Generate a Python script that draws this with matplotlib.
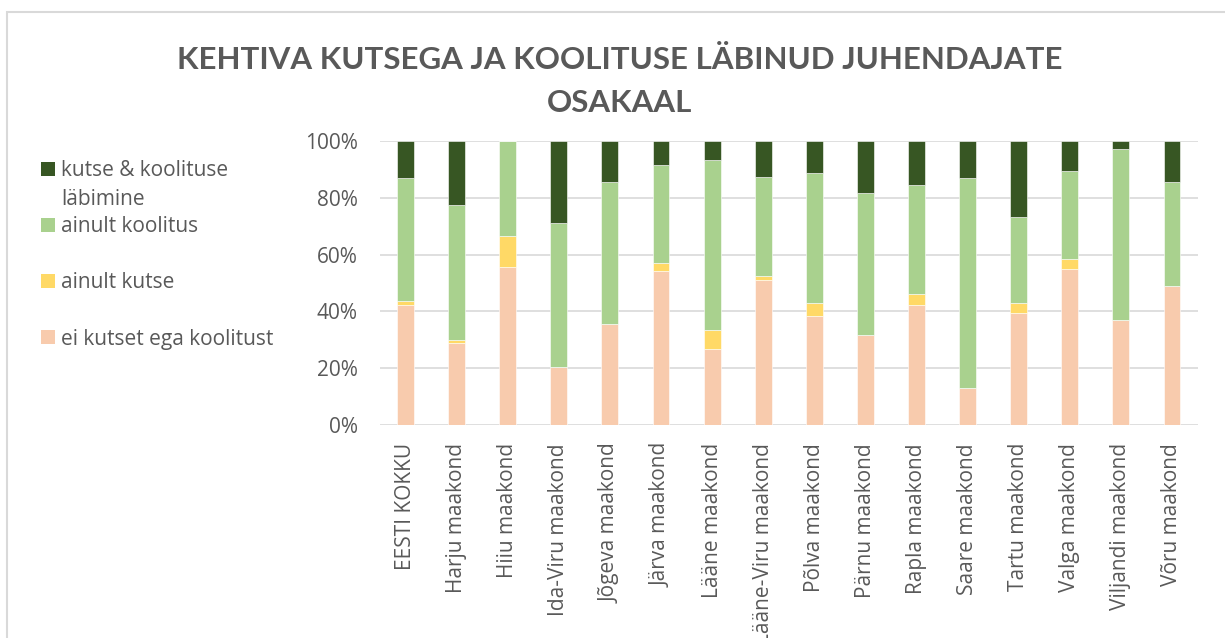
import matplotlib
matplotlib.use("Agg")
import matplotlib.pyplot as plt
import numpy as np
from matplotlib.patches import Patch, Rectangle
from matplotlib.ticker import FuncFormatter

regions = ["EESTI KOKKU", "Harju maakond", "Hiiu maakond", "Ida-Viru maakond",
           "Jõgeva maakond", "Järva maakond", "Lääne maakond", "Lääne-Viru maakond",
           "Põlva maakond", "Pärnu maakond", "Rapla maakond", "Saare maakond",
           "Tartu maakond", "Valga maakond", "Viljandi maakond", "Võru maakond"]

# shares in %, bottom to top
ei_kutset = [42.2, 29.0, 55.5, 20.3, 35.6, 54.3, 26.6, 50.9,
             38.5, 31.6, 42.2, 12.9, 39.5, 55.1, 37.1, 48.9]
ainult_kutse = [1.4, 1.1, 11.1, 0.0, 0.0, 2.7, 6.7, 1.6,
                4.5, 0.0, 3.9, 0.0, 3.4, 3.4, 0.0, 0.0]
ainult_koolitus = [43.2, 47.5, 33.4, 51.0, 50.1, 34.4, 59.9, 35.0,
                   45.6, 50.0, 38.4, 73.9, 30.2, 31.0, 60.0, 36.8]
kutse_ja_koolitus = [13.2, 22.4, 0.0, 28.7, 14.3, 8.6, 6.8, 12.5,
                     11.4, 18.4, 15.5, 13.2, 26.9, 10.5, 2.9, 14.3]

series = [
    ("ei kutset ega koolitust", ei_kutset, "#F8CBAD"),
    ("ainult kutse", ainult_kutse, "#FFD966"),
    ("ainult koolitus", ainult_koolitus, "#A9D18E"),
    ("kutse & koolituse", kutse_ja_koolitus, "#375623"),
]

txt = "#595959"
fs = 15
plt.rcParams["font.family"] = ["Open Sans", "DejaVu Sans"]

fig = plt.figure(figsize=(12.25, 6.38), dpi=100)
ax = fig.add_axes([380 / 1225, 1 - 425 / 638, (1197.5 - 380) / 1225, (425 - 141) / 638])

x = np.arange(len(regions))
bottom = np.zeros(len(regions))
for name, vals, col in series:
    vals = np.array(vals)
    ax.bar(x, vals, 0.33, bottom=bottom, color=col, edgecolor="white", linewidth=0.4, zorder=3)
    bottom += vals

ax.set_xlim(-0.5, len(regions) - 0.5)
ax.set_ylim(0, 100)
ax.set_yticks(np.arange(0, 101, 20))
ax.yaxis.set_major_formatter(FuncFormatter(lambda v, p: "{:.0f}%".format(v)))
ax.set_xticks(x)
ax.set_xticklabels(regions, rotation=90)
ax.tick_params(axis="both", length=0, colors=txt, labelsize=fs)
ax.tick_params(axis="x", pad=13)
ax.tick_params(axis="y", pad=16)
ax.grid(axis="y", color="#D9D9D9", linewidth=1.2, zorder=0)
for s in ax.spines.values():
    s.set_visible(False)

fig.text(620 / 1225, 1 - 81.5 / 638, "KEHTIVA KUTSEGA JA KOOLITUSE LÄBINUD JUHENDAJATE\nOSAKAAL",
         ha="center", va="center", multialignment="center", fontsize=22.5,
         fontweight="bold", color=txt, linespacing=1.62, family=["Lato", "DejaVu Sans"])

# legend in the same order as Excel shows it
handles = [Patch(facecolor=col, edgecolor="none") for name, vals, col in series[::-1]]
labels = [name for name, vals, col in series[::-1]]
leg = fig.legend(handles, labels, loc="upper left", bbox_to_anchor=(41 / 1225, 1 - 160 / 638),
                 frameon=False, fontsize=fs, handlelength=0.67, handleheight=0.67,
                 handletextpad=0.28, labelspacing=1.69, borderaxespad=0, borderpad=0)
for t in leg.get_texts():
    t.set_color(txt)

fig.canvas.draw()
bb = leg.get_texts()[0].get_window_extent()
fig.text(bb.x0 / fig.bbox.width, (bb.y0 - 8) / fig.bbox.height, "läbimine",
         ha="left", va="top", fontsize=fs, color=txt)

# outer chart border
fig.patches.append(Rectangle((7 / 1225, -0.05), 1.1, 1 - 12 / 638 + 0.05,
                             transform=fig.transFigure, fill=False,
                             edgecolor="#D9D9D9", linewidth=1.5))

fig.savefig("out.png", dpi=100)
